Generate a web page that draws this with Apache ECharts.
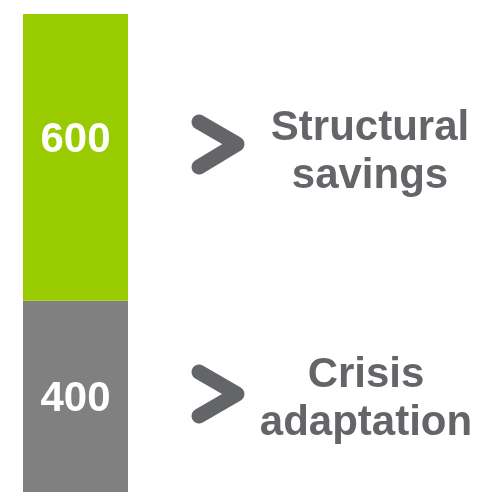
<!DOCTYPE html>
<html>
<head>
<meta charset="utf-8">
<script src="https://cdn.jsdelivr.net/npm/echarts@6/dist/echarts.min.js"></script>
<style>html,body{margin:0;padding:0;background:#fff;}#c{width:484px;height:493px;}</style>
</head>
<body>
<div id="c"></div>
<script>
var categories = ['Total'];
var crisisAdaptation = [400];
var structuralSavings = [600];
var sideLabels = ['Crisis\nadaptation', 'Structural\nsavings'];

var chart = echarts.init(document.getElementById('c'), null, {renderer: 'canvas'});
var labelStyle = {show: true, position: 'inside', color: '#fff', fontSize: 42, fontWeight: 'bold', fontFamily: 'Liberation Sans, Arial, sans-serif', offset: [0, 3]};
var textColor = '#646569';
function chevron(pts) {
  return {type: 'polyline', shape: {points: pts}, style: {stroke: textColor, lineWidth: 15, lineCap: 'round', lineJoin: 'round', fill: null}};
}
function sideText(x, y, t) {
  return {type: 'text', x: x, y: y, style: {text: t, fill: textColor, font: 'bold 42px "Liberation Sans", Arial, sans-serif', align: 'center', verticalAlign: 'middle', lineHeight: 48}};
}
chart.setOption({
  animation: false,
  grid: {left: 23, right: 356, top: 14, bottom: 1},
  xAxis: {type: 'category', data: categories, show: false},
  yAxis: {type: 'value', min: 0, max: 1000, show: false},
  series: [
    {name: 'Crisis adaptation', type: 'bar', stack: 't', data: crisisAdaptation, barWidth: '100%', itemStyle: {color: '#808080'}, label: labelStyle},
    {name: 'Structural savings', type: 'bar', stack: 't', data: structuralSavings, barWidth: '100%', itemStyle: {color: '#99CC00'}, label: Object.assign({}, labelStyle, {offset: [0, -17]})}
  ],
  graphic: [
    chevron([[199, 122], [237, 144], [199, 167]]),
    chevron([[199, 372], [237, 394], [199, 416]]),
    sideText(370, 152, sideLabels[1]),
    sideText(366, 399, sideLabels[0])
  ]
});
</script>
</body>
</html>
